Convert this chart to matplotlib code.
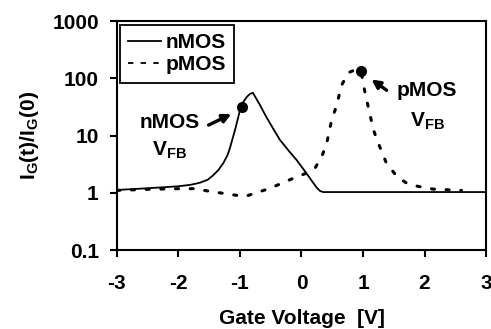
import matplotlib

matplotlib.use("Agg")
import matplotlib.pyplot as plt
from matplotlib.lines import Line2D

plt.rcParams["font.family"] = ["Liberation Sans", "DejaVu Sans"]
plt.rcParams["font.weight"] = "bold"
plt.rcParams["axes.unicode_minus"] = False
plt.rcParams["mathtext.fontset"] = "custom"
plt.rcParams["mathtext.bf"] = "Liberation Sans:bold"
plt.rcParams["mathtext.rm"] = "Liberation Sans:bold"

FS = 15

# gate current ratio vs gate voltage
nmos_v = [-3.0, -2.5, -2.0, -1.8, -1.65, -1.52, -1.43, -1.35, -1.27, -1.2,
          -1.16, -1.12, -1.08, -1.04, -1.0, -0.95, -0.89, -0.84, -0.79, -0.68,
          -0.57, -0.46, -0.35, -0.2, -0.08, 0.08, 0.18, 0.25, 0.3, 0.35,
          1.0, 2.0, 3.0]
nmos_i = [1.12, 1.2, 1.3, 1.38, 1.5, 1.7, 2.05, 2.5, 3.3, 4.6,
          6.2, 8.8, 12.5, 18.5, 27.5, 38, 47, 53, 56, 35,
          21, 13.2, 8.4, 5.3, 3.75, 2.2, 1.55, 1.22, 1.08, 1.03,
          1.03, 1.03, 1.03]

pmos_v = [-3.0, -2.5, -2.0, -1.76, -1.33, -0.92, -0.51, -0.13, 0.08, 0.22,
          0.33, 0.41, 0.49, 0.57, 0.65, 0.76, 0.88, 0.97, 1.03, 1.09,
          1.17, 1.25, 1.38, 1.55, 1.71, 1.9, 2.14, 2.6]
pmos_i = [1.1, 1.15, 1.18, 1.18, 1.0, 0.86, 1.2, 1.8, 2.2, 2.7,
          4.3, 7.3, 18.7, 33, 75, 125, 142, 128, 58, 30,
          12.5, 7.3, 3.3, 1.93, 1.47, 1.29, 1.16, 1.1]

# flat-band markers
vfb_v = [-0.97, 0.97]
vfb_i = [31, 132]

fig = plt.figure(figsize=(4.91, 3.29), dpi=100)
ax = fig.add_axes([0.238, 0.240, 0.752, 0.696])

ax.plot(nmos_v, nmos_i, color="black", lw=1.3)
ax.plot(pmos_v, pmos_i, color="black", lw=2.2, dashes=(1.0, 3.8),
        dash_capstyle="round")
ax.plot(vfb_v, vfb_i, "o", color="black", ms=7)

ax.set_yscale("log")
ax.set_xlim(-3, 3)
ax.set_ylim(0.1, 1000)
ax.set_xticks(range(-3, 4))
ax.set_yticks([0.1, 1, 10, 100, 1000])
ax.set_yticklabels(["0.1", "1", "10", "100", "1000"])
ax.minorticks_off()
ax.tick_params(axis="both", direction="out", length=5, width=1.5,
               labelsize=FS)
ax.tick_params(axis="y", pad=8)
ax.tick_params(axis="x", pad=12)
for s in ax.spines.values():
    s.set_linewidth(1.5)

ax.set_xlabel("Gate Voltage  [V]", fontsize=FS, fontweight="bold", labelpad=12)
ax.set_ylabel("I$_\\mathbf{G}$(t)/I$_\\mathbf{G}$(0)", fontsize=FS,
              fontweight="bold", labelpad=8)

handles = [Line2D([], [], color="black", lw=1.3),
           Line2D([], [], color="black", lw=1.3, dashes=(3, 4))]
leg = ax.legend(handles, ["nMOS", "pMOS"], loc="upper left",
                bbox_to_anchor=(0.008, 0.983), borderaxespad=0,
                fontsize=FS, handlelength=1.6, handletextpad=0.2,
                labelspacing=0.15, borderpad=0.4, fancybox=False,
                framealpha=1, edgecolor="black")
leg.get_frame().set_linewidth(1.3)
for t in leg.get_texts():
    t.set_fontweight("bold")

arrow = dict(arrowstyle="-|>,head_length=0.5,head_width=0.25",
             color="black", lw=2.4)
ax.annotate("", xy=(-1.1, 25), xytext=(-1.55, 14.5), arrowprops=arrow)
ax.text(-2.14, 16.6, "nMOS", fontsize=FS, fontweight="bold",
        ha="center", va="center")
ax.text(-2.14, 5.6, "V$_\\mathbf{FB}$", fontsize=FS, fontweight="bold",
        ha="center", va="center")

ax.annotate("", xy=(1.1, 102), xytext=(1.42, 58), arrowprops=arrow)
ax.text(2.04, 62, "pMOS", fontsize=FS, fontweight="bold",
        ha="center", va="center")
ax.text(2.04, 18, "V$_\\mathbf{FB}$", fontsize=FS, fontweight="bold",
        ha="center", va="center")

fig.savefig("out.png", dpi=100)
